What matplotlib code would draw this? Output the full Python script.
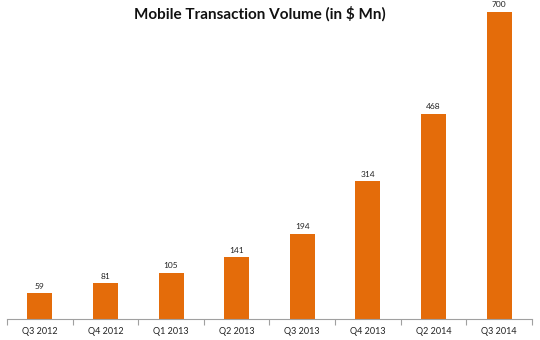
import matplotlib
matplotlib.use("Agg")
import matplotlib.pyplot as plt
import numpy as np

quarters = ["Q3 2012", "Q4 2012", "Q1 2013", "Q2 2013", "Q3 2013", "Q4 2013", "Q2 2014", "Q3 2014"]
volume = [59, 81, 105, 141, 194, 314, 468, 700]

bar_color = "#E46C0A"
plt.rcParams["font.family"] = ["Lato", "DejaVu Sans"]

fig = plt.figure(figsize=(5.4, 3.4), dpi=100)
ax = fig.add_axes([0.013, 0.062, 0.972, 0.938])
ax.set_clip_on(False)

x = np.arange(len(quarters))
bars = ax.bar(x, volume, width=0.38, color=bar_color)
for xi, v in zip(x, volume):
    ax.annotate(str(v), (xi, v), xytext=(0, 2.5), textcoords="offset points",
                ha="center", va="bottom", fontsize=6, color="#222222",
                annotation_clip=False)

ax.set_xlim(-0.5, len(quarters) - 0.5)
ax.set_ylim(0, 727)
ax.set_xticks(x)
ax.set_xticklabels(quarters, fontsize=6.5, color="#222222")
ax.set_xticks(np.arange(-0.5, len(quarters)), minor=True)
ax.tick_params(axis="x", which="major", length=0, pad=6)
ax.tick_params(axis="x", which="minor", length=4, color="#a0a0a0", width=0.8)
ax.set_yticks([])
for side in ("left", "right", "top"):
    ax.spines[side].set_visible(False)
ax.spines["bottom"].set_color("#a0a0a0")
ax.spines["bottom"].set_linewidth(0.8)

fig.text(260 / 540, 1 - 14 / 340, "Mobile Transaction Volume (in $ Mn)",
         ha="center", va="center", fontsize=11, fontweight="bold", color="#111111")

fig.savefig("out.png", dpi=100)
